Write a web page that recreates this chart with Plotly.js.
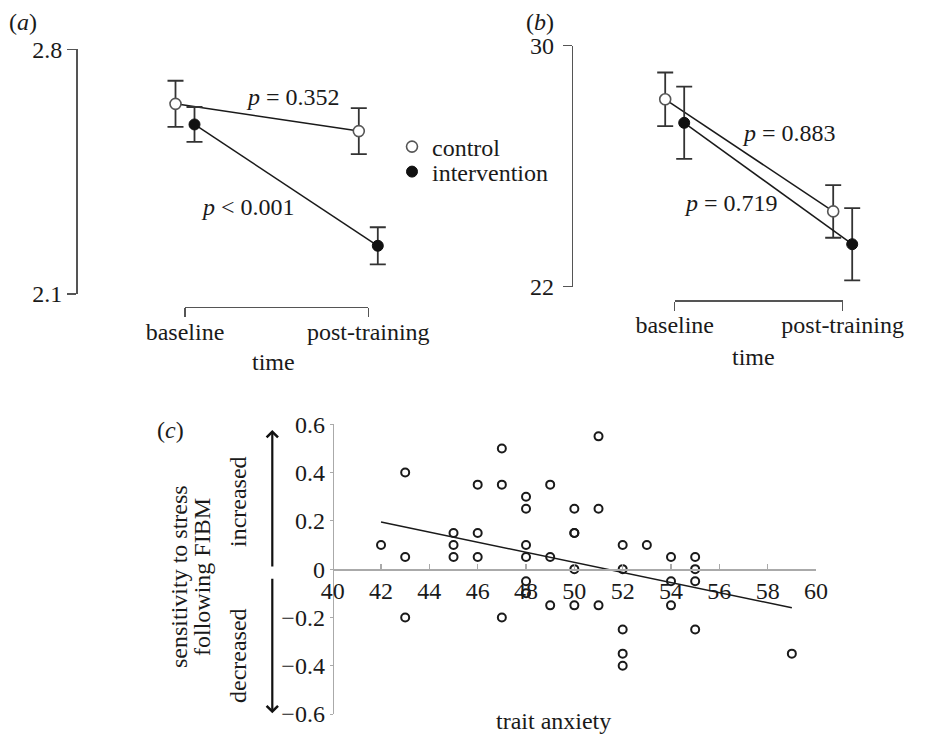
<!DOCTYPE html>
<html><head><meta charset="utf-8">
<script src="https://cdn.plot.ly/plotly-3.0.1.min.js"></script>
<style>html,body{margin:0;padding:0;background:#fff}#chart{width:942px;height:734px}</style>
</head><body><div id="chart"></div>
<script>
// ---------------- data ----------------
const timepoints = ['baseline', 'post-training'];
const groupNames = ['control', 'intervention'];

// panel (a)
const panelAYTicks = [2.1, 2.8];
const panelAControlMean = [2.644, 2.566];
const panelAControlSE = [0.066, 0.066];
const panelAInterventionMean = [2.585, 2.238];
const panelAInterventionSE = [0.050, 0.053];
const panelAPText = ['= 0.352', '< 0.001'];

// panel (b)
const panelBYTicks = [22, 30];
const panelBControlMean = [28.22, 24.50];
const panelBControlSE = [0.89, 0.875];
const panelBInterventionMean = [27.44, 23.41];
const panelBInterventionSE = [1.20, 1.20];
const panelBPText = ['= 0.883', '= 0.719'];

// panel (c)
const traitAnxiety = [42, 43, 43, 43, 45, 45, 45, 46, 46, 46, 47, 47, 47,
  48, 48, 48, 48, 48, 48, 49, 49, 49, 50, 50, 50, 50, 50, 51, 51, 51,
  52, 52, 52, 52, 52, 53, 54, 54, 54, 55, 55, 55, 55, 59];
const sensitivity = [0.10, 0.40, 0.05, -0.20, 0.15, 0.10, 0.05, 0.35, 0.15, 0.05, 0.50, 0.35, -0.20,
  0.30, 0.25, 0.10, 0.05, -0.05, -0.10, 0.35, 0.05, -0.15, 0.25, 0.15, 0.15, 0.00, -0.15, 0.55, 0.25, -0.15,
  0.10, 0.00, -0.25, -0.35, -0.40, 0.10, 0.05, -0.05, -0.15, 0.05, 0.00, -0.05, -0.25, -0.35];
const trendAnxiety = [42, 59];
const trendSensitivity = [0.195, -0.16];
const panelCXTicks = [40, 42, 44, 46, 48, 50, 52, 54, 56, 58, 60];
const panelCYTicks = [-0.6, -0.4, -0.2, 0, 0.2, 0.4, 0.6];

// ---------------- layout geometry (pixels) ----------------
const W = 942, H = 734;
const px = v => v / W;
const py = v => 1 - v / H;
const FONT = '"Liberation Serif", "Times New Roman", serif';
const INK = '#1a1a1a';
const FS = 24;
const G = {
  a: {bl: 185, br: 368.3, top: 49.3, bot: 294, axisX: 76, bracketY: 306.7, ystand: 0},
  b: {bl: 674.7, br: 842.7, top: 45.7, bot: 286.7, axisX: 571.7, bracketY: 300, ystand: 4},
  c: {l: 332.7, r: 816, top: 424.3, bot: 714},
  pad: 60, offsetPx: 9.5
};

const catIdx = timepoints.map((_, i) => i);
const ctrlMarker = {symbol: 'circle', size: 11, color: '#fff', line: {color: '#555', width: 1.6}};
const intMarker = {symbol: 'circle', size: 11, color: '#111', line: {color: '#111', width: 1}};
const errStyle = {type: 'data', visible: true, color: '#333', thickness: 1.8, width: 8};

function panelTraces(P, xa, ya, xb, ctrlMean, ctrlSE, intMean, intSE) {
  const w = P.br - P.bl;
  const off = G.offsetPx / w;
  return [
    {x: catIdx.map(i => i - off), y: ctrlMean, xaxis: xa, yaxis: ya, mode: 'lines+markers',
     line: {color: INK, width: 1.5}, marker: ctrlMarker, cliponaxis: false,
     error_y: Object.assign({array: ctrlSE}, errStyle), showlegend: false, hoverinfo: 'skip'},
    {x: catIdx.map(i => i + off), y: intMean, xaxis: xa, yaxis: ya, mode: 'lines+markers',
     line: {color: INK, width: 1.5}, marker: intMarker, cliponaxis: false,
     error_y: Object.assign({array: intSE}, errStyle), showlegend: false, hoverinfo: 'skip'},
    // carrier trace for the bracket-style time axis
    {x: catIdx, y: catIdx.map(() => null), xaxis: xb, yaxis: ya, mode: 'markers',
     showlegend: false, hoverinfo: 'skip'}
  ];
}

const traces = []
  .concat(panelTraces(G.a, 'x', 'y', 'x2', panelAControlMean, panelAControlSE, panelAInterventionMean, panelAInterventionSE))
  .concat(panelTraces(G.b, 'x3', 'y3', 'x4', panelBControlMean, panelBControlSE, panelBInterventionMean, panelBInterventionSE));

// legend entries
traces.push({x: [null], y: [null], xaxis: 'x', yaxis: 'y', mode: 'markers', name: groupNames[0],
  marker: ctrlMarker, showlegend: true, legend: 'legend', hoverinfo: 'skip'});
traces.push({x: [null], y: [null], xaxis: 'x', yaxis: 'y', mode: 'markers', name: groupNames[1],
  marker: intMarker, showlegend: true, legend: 'legend2', hoverinfo: 'skip'});

// panel (c)
traces.push({x: traitAnxiety, y: sensitivity, xaxis: 'x5', yaxis: 'y5', mode: 'markers',
  marker: {symbol: 'circle-open', size: 8, color: INK, line: {width: 2, color: INK}},
  showlegend: false, hoverinfo: 'skip', cliponaxis: false});
traces.push({x: trendAnxiety, y: trendSensitivity, xaxis: 'x5', yaxis: 'y5', mode: 'lines',
  line: {color: INK, width: 1.5}, showlegend: false, hoverinfo: 'skip'});

const tickFont = {family: FONT, size: FS, color: INK};

function dataX(P) {
  const w = P.br - P.bl;
  return {domain: [px(P.bl - G.pad), px(P.br + G.pad)], range: [-G.pad / w, 1 + G.pad / w],
    visible: false, fixedrange: true};
}
function valueY(P, ticks) {
  return {domain: [py(P.bot), py(P.top)], range: [ticks[0], ticks[ticks.length - 1]],
    anchor: 'free', position: px(P.axisX), showline: true, linecolor: '#555', linewidth: 1.5,
    ticks: 'outside', ticklen: 9, tickwidth: 1.5, tickcolor: '#555', tickvals: ticks,
    ticklabelstandoff: P.ystand,
    showgrid: false, zeroline: false, tickfont: tickFont, fixedrange: true};
}
function bracketX(P) {
  return {domain: [px(P.bl), px(P.br)], range: [0, 1], anchor: 'free', position: py(P.bracketY),
    showline: true, linecolor: '#555', linewidth: 1.5, ticks: 'outside', ticklen: 9, tickwidth: 1.5,
    tickcolor: '#555', tickvals: catIdx, ticktext: timepoints, showgrid: false, zeroline: false,
    ticklabelstandoff: -6,
    tickfont: tickFont, fixedrange: true};
}

const cYr = [panelCYTicks[0], panelCYTicks[panelCYTicks.length - 1]];
const cYd = [py(G.c.bot), py(G.c.top)];
const zeroPos = cYd[0] + (0 - cYr[0]) / (cYr[1] - cYr[0]) * (cYd[1] - cYd[0]);

function note(text, x, y, extra) {
  return Object.assign({text: text, x: px(x), y: py(y), xref: 'paper', yref: 'paper',
    xanchor: 'center', yanchor: 'middle', showarrow: false,
    font: {family: FONT, size: FS, color: INK}}, extra || {});
}

const annotations = [
  note('(<i>a</i>)', 23, 21.7),
  note('(<i>b</i>)', 540, 21.7),
  note('(<i>c</i>)', 170, 430),
  note('time', 273.3, 361.7),
  note('time', 753.3, 356.7),
  note('<i>p</i> ' + panelAPText[0], 292.5, 96.7),
  note('<i>p</i> ' + panelAPText[1], 248.3, 206.7),
  note('<i>p</i> ' + panelBPText[0], 789, 133.3),
  note('<i>p</i> ' + panelBPText[1], 731, 203.3),
  note('trait anxiety', 553, 721),
  note('sensitivity to stress', 179, 577, {textangle: -90}),
  note('following FIBM', 202, 577, {textangle: -90}),
  note('increased', 238, 502, {textangle: -90}),
  note('decreased', 238, 656, {textangle: -90}),
  {text: '', x: px(272.3), y: py(430), xref: 'paper', yref: 'paper', showarrow: true,
   ax: 0, ay: 138, arrowhead: 4, arrowsize: 1, arrowwidth: 2.2, arrowcolor: '#111'},
  {text: '', x: px(272.3), y: py(713.3), xref: 'paper', yref: 'paper', showarrow: true,
   ax: 0, ay: -136, arrowhead: 4, arrowsize: 1, arrowwidth: 2.2, arrowcolor: '#111'}
];

const legendBase = {xanchor: 'left', yanchor: 'middle', bgcolor: 'rgba(0,0,0,0)', borderwidth: 0,
  font: {family: FONT, size: FS, color: INK}, itemwidth: 30};

const layout = {
  width: W, height: H, autosize: false,
  margin: {l: 0, r: 0, t: 0, b: 0, pad: 0},
  paper_bgcolor: '#fff', plot_bgcolor: 'rgba(0,0,0,0)',
  hovermode: false, dragmode: false,
  font: {family: FONT, size: FS, color: INK},
  xaxis: Object.assign(dataX(G.a), {anchor: 'y'}),
  yaxis: valueY(G.a, panelAYTicks),
  xaxis2: bracketX(G.a),
  xaxis3: Object.assign(dataX(G.b), {anchor: 'y3'}),
  yaxis3: valueY(G.b, panelBYTicks),
  xaxis4: bracketX(G.b),
  xaxis5: {domain: [px(G.c.l), px(G.c.r)], range: [panelCXTicks[0], panelCXTicks[panelCXTicks.length - 1]],
    anchor: 'free', position: zeroPos, tickvals: panelCXTicks, showline: true, linecolor: '#aaa', linewidth: 1.5,
    ticks: 'inside', ticklen: 5, tickcolor: '#aaa', tickwidth: 1.2, showgrid: false, zeroline: false,
    tickfont: tickFont, fixedrange: true},
  yaxis5: {domain: cYd, range: cYr, anchor: 'free', position: px(G.c.l), tickvals: panelCYTicks,
    showline: true, linecolor: '#aaa', linewidth: 1.5, ticks: 'outside', ticklen: 3, tickcolor: '#aaa',
    showgrid: false, zeroline: false, tickfont: tickFont, fixedrange: true},
  legend: Object.assign({x: px(392), y: py(147)}, legendBase),
  legend2: Object.assign({x: px(392), y: py(172)}, legendBase),
  annotations: annotations,
  showlegend: true
};

Plotly.newPlot('chart', traces, layout, {staticPlot: true, displayModeBar: false});
</script>
</body></html>
